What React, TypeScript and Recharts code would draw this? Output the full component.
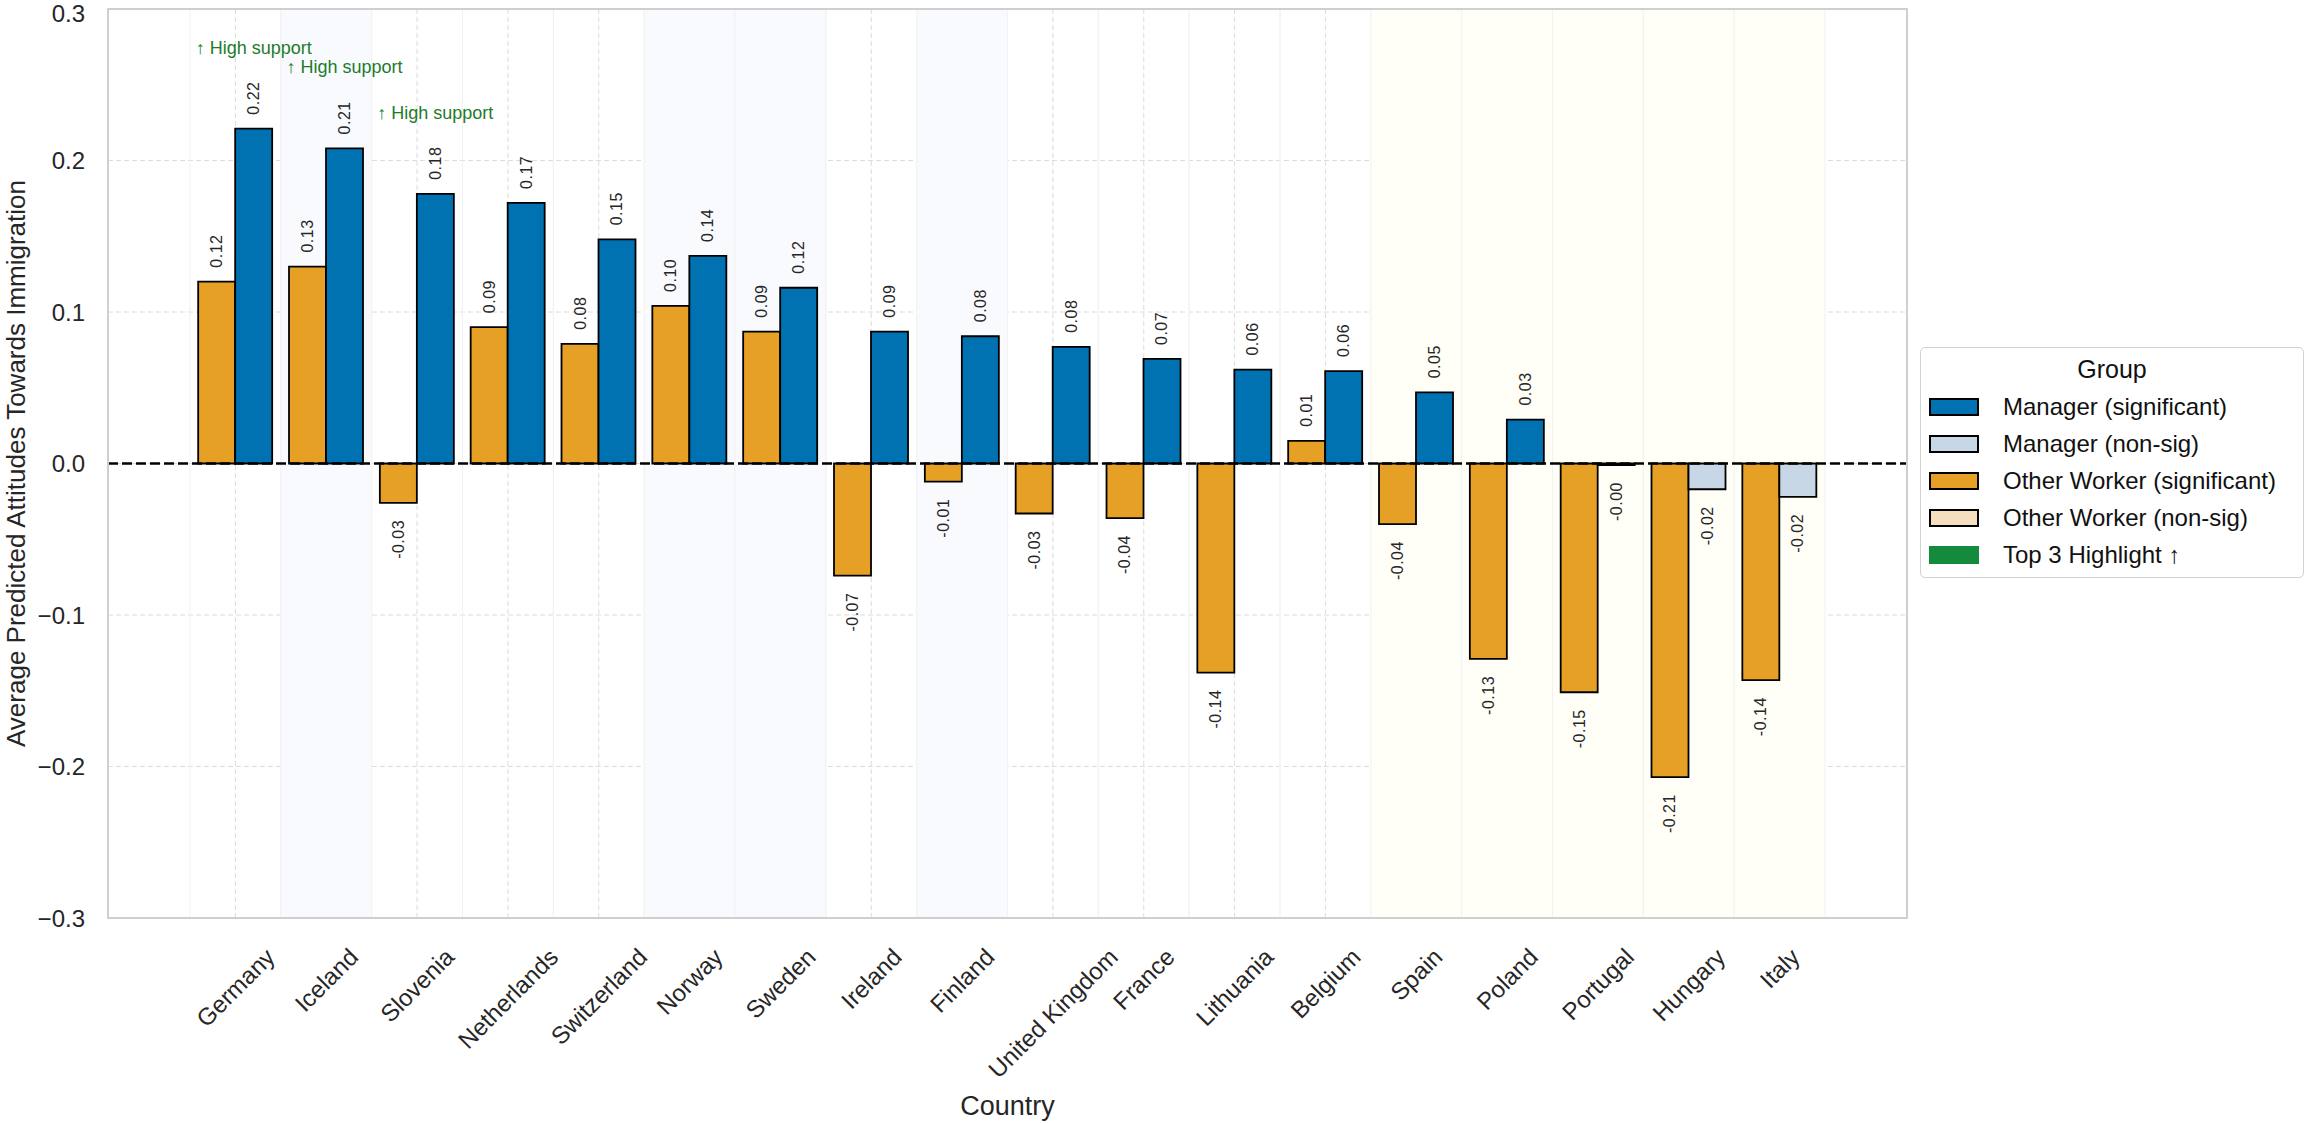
import React from 'react';
import {
  BarChart, Bar, XAxis, YAxis, CartesianGrid, ReferenceLine, ReferenceArea, Cell, LabelList,
} from 'recharts';

const countries = [
  'Germany', 'Iceland', 'Slovenia', 'Netherlands', 'Switzerland', 'Norway', 'Sweden', 'Ireland', 'Finland',
  'United Kingdom', 'France', 'Lithuania', 'Belgium', 'Spain', 'Poland', 'Portugal', 'Hungary', 'Italy',
];
const otherWorker = [
  0.12, 0.13, -0.026, 0.09, 0.079, 0.104, 0.087, -0.074, -0.012,
  -0.033, -0.036, -0.138, 0.015, -0.04, -0.129, -0.151, -0.207, -0.143,
];
const manager = [
  0.221, 0.208, 0.178, 0.172, 0.148, 0.137, 0.116, 0.087, 0.084,
  0.077, 0.069, 0.062, 0.061, 0.047, 0.029, -0.001, -0.017, -0.022,
];
const otherWorkerSig = countries.map(() => true);
const managerSig = [
  true, true, true, true, true, true, true, true, true,
  true, true, true, true, true, true, false, false, false,
];
const top3 = ['Germany', 'Iceland', 'Slovenia'];
const blueBand = ['Iceland', 'Norway', 'Sweden', 'Finland'];
const yellowBand = ['Spain', 'Poland', 'Portugal', 'Hungary', 'Italy'];
const yTicks = [-0.3, -0.2, -0.1, 0, 0.1, 0.2, 0.3];

const FONT = '"Liberation Sans", Arial, sans-serif';
const TEXT = '#262626';
const MGR = '#0072B2';
const MGR_NS = '#C8D7E5';
const OW = '#E5A025';
const OW_NS = '#F5DEBD';
const GREEN = '#148A3C';

const data = countries.map((c, i) => ({
  country: c,
  worker: otherWorker[i],
  manager: manager[i],
  annot: top3.includes(c) ? '\u2191 High support' : '',
}));

const measureCtx = typeof document !== 'undefined' ? document.createElement('canvas').getContext('2d') : null;
const textWidth = (s: string, size: number) => {
  if (!measureCtx) return s.length * size * 0.5;
  measureCtx.font = `${size}px "Liberation Sans", Arial, sans-serif`;
  return measureCtx.measureText(s).width;
};

const fmtY = (v: number) => {
  const s = Math.abs(v).toFixed(1);
  return v < -1e-9 ? `\u2212${s}` : s;
};

const CountryTick = (props: any) => {
  const { x, y, payload } = props;
  const s = String(payload.value);
  const size = 24;
  const w = textWidth(s, size);
  const box = (w + size * 0.9) * Math.SQRT1_2;
  const cy = y + 25 + box / 2;
  return (
    <text x={x} y={cy} transform={`rotate(-45 ${x} ${cy})`} textAnchor="middle" dominantBaseline="central"
      fontSize={size} fontFamily={FONT} fill={TEXT}>
      {s}
    </text>
  );
};

const rectOf = (props: any) => {
  const vb = props.viewBox || {};
  const x = props.x ?? vb.x;
  const y = props.y ?? vb.y;
  const width = props.width ?? vb.width;
  const height = props.height ?? vb.height;
  return { x: Number(x), y: Number(y), width: Number(width), height: Number(height) };
};

const ValueLabel = (props: any) => {
  const v = Number(props.value);
  if (!isFinite(v)) return null;
  const { x, y, width, height } = rectOf(props);
  const cx = x + width / 2;
  const top = Math.min(y, y + height);
  const bottom = Math.max(y, y + height);
  const txt = v.toFixed(2);
  const pos = v >= 0;
  const ay = pos ? top - 14 : bottom + 17;
  return (
    <text x={cx} y={ay} transform={`rotate(-90 ${cx} ${ay})`} textAnchor={pos ? 'start' : 'end'}
      dominantBaseline="central" fontSize={16} letterSpacing={0.5} fontFamily={FONT} fill={TEXT}>
      {txt}
    </text>
  );
};

const AnnotLabel = (props: any) => {
  if (!props.value) return null;
  const { x, y, width, height } = rectOf(props);
  const cx = x + width / 2;
  const top = Math.min(y, y + height);
  return (
    <text x={cx} y={top - 81} textAnchor="middle" dominantBaseline="central" fontSize={18}
      fontFamily={FONT} fill="#1E7A2C">
      {props.value}
    </text>
  );
};

const legendItems = [
  { label: 'Manager (significant)', color: MGR, border: true },
  { label: 'Manager (non-sig)', color: MGR_NS, border: true },
  { label: 'Other Worker (significant)', color: OW, border: true },
  { label: 'Other Worker (non-sig)', color: OW_NS, border: true },
  { label: 'Top 3 Highlight \u2191', color: GREEN, border: false },
];

export default function App() {
  return (
    <div style={{ position: 'absolute', left: 0, top: 0, width: 2306, height: 1123, background: '#fff', fontFamily: FONT }}>
      <BarChart width={2306} height={1123} data={data} margin={{ top: 9, right: 399, bottom: 0, left: 28 }}
        barCategoryGap="9%" barGap={0}>
        <CartesianGrid stroke="#dcdcdc" strokeDasharray="5 3" />
        {countries.map((c) => (
          <ReferenceArea key={c} x1={c} x2={c}
            fill={blueBand.includes(c) ? '#F8FAFE' : yellowBand.includes(c) ? '#FFFEF7' : 'none'}
            fillOpacity={1} stroke="#f2f2f2" strokeWidth={1} />
        ))}
        <XAxis dataKey="country" type="category" height={205} padding={{ left: 82, right: 82 }}
          tickLine={false} axisLine={false} tickSize={0} interval={0} tick={<CountryTick />}
          label={(p: any) => {
            const vb = p.viewBox || {};
            return (
              <text x={vb.x + vb.width / 2} y={1106} textAnchor="middle" dominantBaseline="central"
                fontSize={27} fontFamily={FONT} fill={TEXT}>Country</text>
            );
          }} />
        <YAxis type="number" domain={[-0.3, 0.3]} ticks={yTicks} width={80} tickFormatter={fmtY}
          tickLine={false} axisLine={false} tickSize={0} tickMargin={23} allowDataOverflow
          tick={{ fontSize: 24, fontFamily: FONT, fill: TEXT }}
          label={(p: any) => {
            const vb = p.viewBox || {};
            const cy = vb.y + vb.height / 2;
            return (
              <text x={16} y={cy} transform={`rotate(-90 16 ${cy})`} textAnchor="middle" dominantBaseline="central"
                fontSize={26} fontFamily={FONT} fill={TEXT}>Average Predicted Attitudes Towards Immigration</text>
            );
          }} />
        <Bar dataKey="worker" name="Other Worker" stroke="#000" strokeWidth={1.8} isAnimationActive={false}>
          {data.map((d, i) => (
            <Cell key={d.country} fill={otherWorkerSig[i] ? OW : OW_NS} stroke="#000" strokeWidth={1.8} />
          ))}
          <LabelList dataKey="worker" content={<ValueLabel />} />
        </Bar>
        <Bar dataKey="manager" name="Manager" stroke="#000" strokeWidth={1.8} isAnimationActive={false}>
          {data.map((d, i) => (
            <Cell key={d.country} fill={managerSig[i] ? MGR : MGR_NS} stroke="#000" strokeWidth={1.8} />
          ))}
          <LabelList dataKey="manager" content={<ValueLabel />} />
          <LabelList dataKey="annot" content={<AnnotLabel />} />
        </Bar>
        <ReferenceLine y={0} stroke="#000" strokeWidth={2.6} strokeDasharray="10 4" />
      </BarChart>

      <div style={{
        position: 'absolute', left: 107, top: 8, width: 1801, height: 911, border: '2px solid #cfcfcf',
        boxSizing: 'border-box', pointerEvents: 'none',
      }} />

      <div style={{
        position: 'absolute', left: 1920, top: 347, width: 384, height: 231, boxSizing: 'border-box',
        border: '1.5px solid #d2d2d2', borderRadius: 5, background: '#fff',
      }}>
        <div style={{ position: 'absolute', left: 0, right: 0, top: 6, textAlign: 'center', fontSize: 25, color: '#111', lineHeight: '30px' }}>
          Group
        </div>
        {legendItems.map((it, i) => (
          <div key={it.label} style={{ position: 'absolute', left: 8, top: 46 + i * 37, height: 26, display: 'flex', alignItems: 'center' }}>
            <div style={{
              width: 50, height: 18, background: it.color, boxSizing: 'border-box',
              border: it.border ? '2px solid #000' : 'none',
            }} />
            <span style={{ marginLeft: 24, fontSize: 24, color: '#111', whiteSpace: 'nowrap' }}>{it.label}</span>
          </div>
        ))}
      </div>
    </div>
  );
}
